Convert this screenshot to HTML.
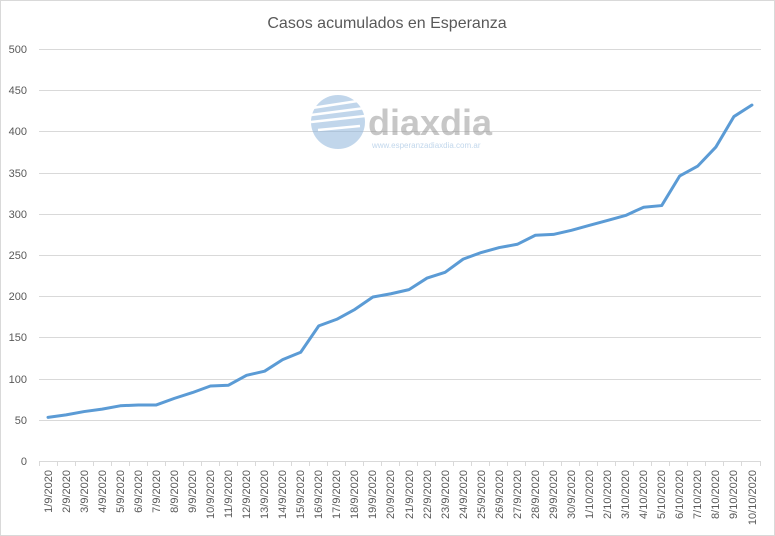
<!DOCTYPE html>
<html><head><style>body{margin:0;background:#fff}svg{display:block;font-family:"Liberation Sans",sans-serif}</style></head><body>
<svg width="775" height="536" viewBox="0 0 775 536" xmlns="http://www.w3.org/2000/svg">
<rect x="0.5" y="0.5" width="774" height="535" fill="#fff" stroke="#d9d9d9"/>
<text x="387" y="28" text-anchor="middle" font-size="16" fill="#595959">Casos acumulados en Esperanza</text>
<g stroke="#d9d9d9" stroke-width="1">
<line x1="39" x2="761" y1="49.5" y2="49.5"/><line x1="39" x2="761" y1="90.5" y2="90.5"/><line x1="39" x2="761" y1="131.5" y2="131.5"/><line x1="39" x2="761" y1="173.5" y2="173.5"/><line x1="39" x2="761" y1="214.5" y2="214.5"/><line x1="39" x2="761" y1="255.5" y2="255.5"/><line x1="39" x2="761" y1="296.5" y2="296.5"/><line x1="39" x2="761" y1="337.5" y2="337.5"/><line x1="39" x2="761" y1="379.5" y2="379.5"/><line x1="39" x2="761" y1="420.5" y2="420.5"/>
</g>
<g font-size="11" fill="#595959" text-anchor="end">
<text x="27" y="53">500</text><text x="27" y="94">450</text><text x="27" y="135">400</text><text x="27" y="177">350</text><text x="27" y="218">300</text><text x="27" y="259">250</text><text x="27" y="300">200</text><text x="27" y="341">150</text><text x="27" y="383">100</text><text x="27" y="424">50</text><text x="27" y="465">0</text>
</g>
<!-- logo -->
<g opacity="0.55">
<circle cx="338" cy="122" r="27" fill="#8fb6dc"/>
<g stroke="#fff" stroke-width="2.5"><line x1="312" y1="108" x2="364" y2="100"/><line x1="311" y1="115" x2="365" y2="108"/><line x1="311" y1="122" x2="365" y2="116"/><line x1="318" y1="130" x2="360" y2="126"/></g>
<text x="368" y="135" font-size="36" font-weight="bold" fill="#9a9a9a">diaxdia</text>
<text x="372" y="148" font-size="8" fill="#8fb6dc">www.esperanzadiaxdia.com.ar</text>
</g>
<line x1="39" x2="761" y1="461.5" y2="461.5" stroke="#d9d9d9"/>
<g stroke="#d9d9d9">
<path d="M39.5 461v5M57.5 461v5M75.5 461v5M93.5 461v5M111.5 461v5M129.5 461v5M147.5 461v5M165.5 461v5M183.5 461v5M201.5 461v5M219.5 461v5M237.5 461v5M255.5 461v5M273.5 461v5M291.5 461v5M309.5 461v5M327.5 461v5M345.5 461v5M363.5 461v5M381.5 461v5M399.5 461v5M417.5 461v5M435.5 461v5M453.5 461v5M471.5 461v5M489.5 461v5M507.5 461v5M525.5 461v5M543.5 461v5M561.5 461v5M579.5 461v5M597.5 461v5M615.5 461v5M633.5 461v5M651.5 461v5M669.5 461v5M687.5 461v5M705.5 461v5M723.5 461v5M741.5 461v5M760.5 461v5"/>
</g>
<polyline transform="translate(48,461) scale(18.05,-0.824)" vector-effect="non-scaling-stroke" fill="none" stroke="#5b9bd5" stroke-width="3" stroke-linejoin="round" stroke-linecap="round"
points="0,53 1,56 2,60 3,63 4,67 5,68 6,68 7,76 8,83 9,91 10,92 11,104 12,109 13,123 14,132 15,164 16,172 17,184 18,199 19,203 20,208 21,222 22,229 23,245 24,253 25,259 26,263 27,274 28,275 29,280 30,286 31,292 32,298 33,308 34,310 35,346 36,358 37,381 38,418 39,432"/>
<g font-size="11" fill="#595959" text-anchor="end">
<text transform="translate(52,470) rotate(-90)">1/9/2020</text>
<text transform="translate(70,470) rotate(-90)">2/9/2020</text>
<text transform="translate(88,470) rotate(-90)">3/9/2020</text>
<text transform="translate(106,470) rotate(-90)">4/9/2020</text>
<text transform="translate(124,470) rotate(-90)">5/9/2020</text>
<text transform="translate(142,470) rotate(-90)">6/9/2020</text>
<text transform="translate(160,470) rotate(-90)">7/9/2020</text>
<text transform="translate(178,470) rotate(-90)">8/9/2020</text>
<text transform="translate(196,470) rotate(-90)">9/9/2020</text>
<text transform="translate(214,470) rotate(-90)">10/9/2020</text>
<text transform="translate(232,470) rotate(-90)">11/9/2020</text>
<text transform="translate(250,470) rotate(-90)">12/9/2020</text>
<text transform="translate(268,470) rotate(-90)">13/9/2020</text>
<text transform="translate(286,470) rotate(-90)">14/9/2020</text>
<text transform="translate(304,470) rotate(-90)">15/9/2020</text>
<text transform="translate(322,470) rotate(-90)">16/9/2020</text>
<text transform="translate(340,470) rotate(-90)">17/9/2020</text>
<text transform="translate(358,470) rotate(-90)">18/9/2020</text>
<text transform="translate(376,470) rotate(-90)">19/9/2020</text>
<text transform="translate(394,470) rotate(-90)">20/9/2020</text>
<text transform="translate(413,470) rotate(-90)">21/9/2020</text>
<text transform="translate(431,470) rotate(-90)">22/9/2020</text>
<text transform="translate(449,470) rotate(-90)">23/9/2020</text>
<text transform="translate(467,470) rotate(-90)">24/9/2020</text>
<text transform="translate(485,470) rotate(-90)">25/9/2020</text>
<text transform="translate(503,470) rotate(-90)">26/9/2020</text>
<text transform="translate(521,470) rotate(-90)">27/9/2020</text>
<text transform="translate(539,470) rotate(-90)">28/9/2020</text>
<text transform="translate(557,470) rotate(-90)">29/9/2020</text>
<text transform="translate(575,470) rotate(-90)">30/9/2020</text>
<text transform="translate(593,470) rotate(-90)">1/10/2020</text>
<text transform="translate(611,470) rotate(-90)">2/10/2020</text>
<text transform="translate(629,470) rotate(-90)">3/10/2020</text>
<text transform="translate(647,470) rotate(-90)">4/10/2020</text>
<text transform="translate(665,470) rotate(-90)">5/10/2020</text>
<text transform="translate(683,470) rotate(-90)">6/10/2020</text>
<text transform="translate(701,470) rotate(-90)">7/10/2020</text>
<text transform="translate(719,470) rotate(-90)">8/10/2020</text>
<text transform="translate(737,470) rotate(-90)">9/10/2020</text>
<text transform="translate(756,470) rotate(-90)">10/10/2020</text>
</g>
</svg>
</body></html>
